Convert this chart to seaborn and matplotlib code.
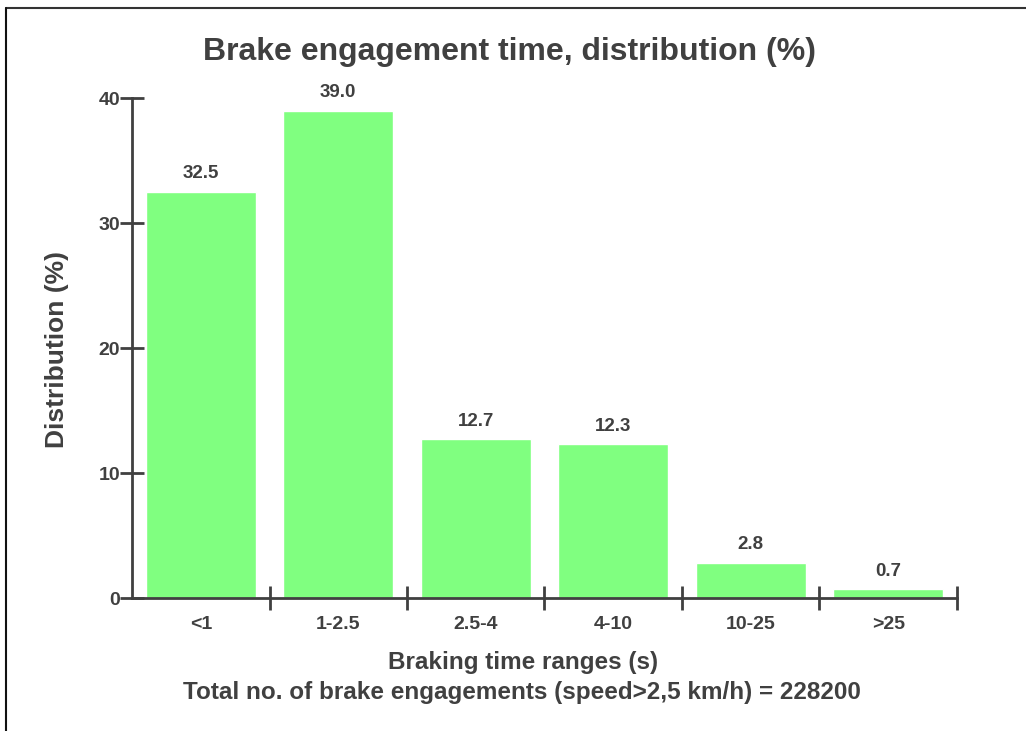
import pandas as pd
import matplotlib.pyplot as plt
import seaborn as sns
from matplotlib.lines import Line2D
from matplotlib.ticker import FixedLocator

# data
ranges = ['<1', '1-2.5', '2.5-4', '4-10', '10-25', '>25']
share = [32.5, 39.0, 12.7, 12.3, 2.8, 0.7]
total = 228200

df = pd.DataFrame({'range': ranges, 'share': share})

sns.set_theme(style='white')
plt.rcParams['font.family'] = ['Liberation Sans', 'DejaVu Sans']
plt.rcParams['font.weight'] = 'bold'
ink = '#404040'

fig = plt.figure(figsize=(10.26, 7.31), dpi=100)
ax = fig.add_axes([0.1287, 0.1819, 0.804, 0.684])

sns.barplot(data=df, x='range', y='share', color='#80ff80', saturation=1,
            width=0.8, ax=ax)

ax.set_xlim(-0.5, len(ranges) - 0.5)
ax.set_ylim(0, 40)
ax.set_yticks([0, 10, 20, 30, 40])

# value labels over bars
for i, v in enumerate(share):
    ax.annotate(f'{v:.1f}', (i, v), xytext=(0, 7), textcoords='offset points',
                ha='center', va='bottom', fontsize=13.5, fontweight='bold', color=ink)

sns.despine(ax=ax)
for s in ['left', 'bottom']:
    ax.spines[s].set_color(ink)
    ax.spines[s].set_linewidth(2)

# boundary ticks between categories
ax.xaxis.set_minor_locator(FixedLocator([i + 0.5 for i in range(len(ranges))]))
ax.tick_params(axis='x', which='major', length=0, pad=13, labelsize=14, labelcolor=ink)
ax.tick_params(axis='x', which='minor', direction='inout', length=17, width=2,
               color=ink, bottom=True)
ax.tick_params(axis='y', which='major', direction='inout', length=17, width=2,
               color=ink, left=True, pad=0, labelsize=14, labelcolor=ink)
for lab in ax.get_xticklabels() + ax.get_yticklabels():
    lab.set_fontweight('bold')

ax.set_xlabel('')
ax.set_ylabel('')

fig.text(57 / 1026, 1 - 349 / 731, 'Distribution (%)', rotation=90, ha='center',
         va='center', fontsize=19, fontweight='bold', color=ink)
fig.text(0.497, 1 - 52 / 731, 'Brake engagement time, distribution (%)', ha='center',
         va='center', fontsize=23, fontweight='bold', color=ink)
fig.text(0.51, 1 - 663 / 731, 'Braking time ranges (s)', ha='center', va='center',
         fontsize=17.5, fontweight='bold', color=ink)
fig.text(0.509, 1 - 693 / 731, f'Total no. of brake engagements (speed>2,5 km/h) = {total}',
         ha='center', va='center', fontsize=17.5, fontweight='bold', color=ink)

# frame lines at top and left of the picture
fig.add_artist(Line2D([6 / 1026, 1], [1 - 8 / 731, 1 - 8 / 731], color='#333333', lw=1.5))
fig.add_artist(Line2D([6 / 1026, 6 / 1026], [0, 1 - 8 / 731], color='#111111', lw=1.5))

fig.savefig('out.png', dpi=100)
